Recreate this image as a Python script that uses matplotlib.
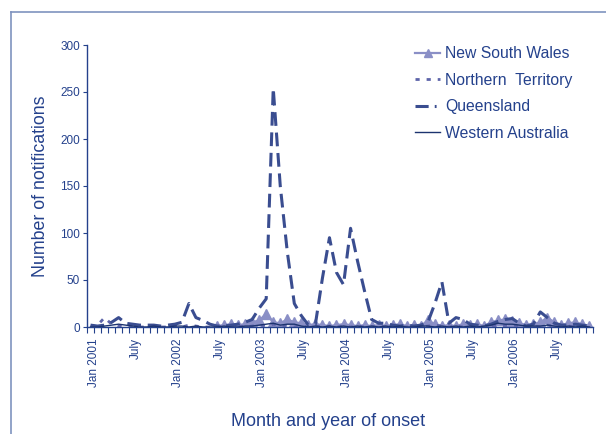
import matplotlib
matplotlib.use("Agg")
import matplotlib.pyplot as plt
import matplotlib.transforms as mtransforms
from matplotlib.lines import Line2D
import numpy as np

plt.rcParams['font.family'] = ['Liberation Sans', 'DejaVu Sans']

# Monthly notifications, January 2001 to December 2006
years = [2001, 2002, 2003, 2004, 2005, 2006]
month_names = ["Jan", "Feb", "Mar", "Apr", "May", "Jun",
               "Jul", "Aug", "Sep", "Oct", "Nov", "Dec"]

nsw = [None] * 18 + [
    1, 2, 3, 2, 3, 5,
    7, 14, 5, 4, 8, 5, 4, 2, 3, 2, 1, 2,
    3, 2, 1, 2, 1, 2, 1, 2, 3, 1, 2, 1,
    7, 3, 1, 2, 1, 3, 2, 3, 1, 5, 7, 8,
    6, 4, 2, 3, 5, 10, 5, 2, 4, 5, 3, 1,
]
nt = [
    0, 2, 10, 3, 1, 0, 1, 0, 0, 1, 0, 0,
    1, 0, 2, 1, 0, 0, 1, 0, 0, 1, 0, 1,
    2, 1, 3, 2, 1, 0, 1, 0, 1, 0, 1, 0,
    1, 0, 1, 0, 0, 1, 0, 1, 0, 0, 1, 0,
    1, 2, 1, 0, 1, 0, 1, 0, 0, 1, 2, 1,
    2, 1, 0, 1, 0, 2, 1, 0, 1, 0, 1, 0,
]
qld = [
    2, 1, 2, 5, 10, 4, 3, 2, 2, 2, 1, 2,
    3, 5, 25, 10, 7, 3, 1, 1, 2, 3, 5, 8,
    20, 30, 254, 150, 80, 25, 12, 2, 3, 52, 95, 58,
    45, 105, 70, 38, 8, 4, 4, 2, 1, 2, 1, 2,
    5, 25, 48, 4, 10, 8, 3, 2, 1, 3, 6, 8,
    9, 4, 1, 3, 16, 10, 4, 2, 2, 3, 2, 1,
]
wa = [
    0, 0, 1, 2, 3, 2, 1, 0, 0, 1, 0, 0,
    1, 1, 0, 1, 0, 0, 0, 1, 0, 0, 1, 1,
    2, 3, 4, 2, 3, 3, 1, 0, 1, 0, 1, 0,
    1, 0, 1, 0, 1, 0, 1, 0, 1, 0, 0, 1,
    1, 0, 1, 0, 1, 0, 1, 0, 1, 2, 4, 3,
    3, 2, 1, 1, 1, 2, 1, 0, 1, 0, 1, 0,
]

month_labels = []
for y in years:
    for m in month_names:
        month_labels.append(f"{m} {y}")
tick_labels = [f"Jan {y}" if i % 2 == 0 else "July"
               for y in years for i in range(2)]

text_blue = "#24418c"
c_nsw = "#8a8fc6"
c_nt = "#5d64a9"
c_qld = "#3a4d90"
c_wa = "#1c336f"

fig = plt.figure(figsize=(6.06, 4.34), dpi=100)
W, H = 606, 434

# outer frame
frame_col = "#7f93bf"
fig.add_artist(Line2D([11 / W, 11 / W], [0, 1 - 12 / H], color=frame_col,
                      lw=1.2, transform=fig.transFigure))
fig.add_artist(Line2D([11 / W, 1], [1 - 12 / H, 1 - 12 / H], color=frame_col,
                      lw=1.2, transform=fig.transFigure))

ax = fig.add_axes([87 / W, (H - 327) / H, (593 - 87) / W, 282 / H])
x = np.arange(len(month_labels))

nsw_arr = np.array([np.nan if v is None else v for v in nsw], dtype=float)
h_nsw, = ax.plot(x, nsw_arr, color=c_nsw, lw=1.6, marker="^", ms=7,
                 mec=c_nsw, mfc=c_nsw, zorder=2)
h_nt, = ax.plot(x, nt, color=c_nt, lw=2.0, dashes=(1.5, 2.5), zorder=3)
ax.plot(x, qld, color=c_qld, lw=2.2, dashes=(4.5, 2.2), zorder=4)
h_wa, = ax.plot(x, wa, color=c_wa, lw=1.0, zorder=5)

# legend key for Queensland: long dash followed by a dot
h_qld = Line2D([], [], color=c_qld, lw=2.2, dashes=(4.3, 2.0, 0.6, 2.0))

ax.set_xlim(-0.5, len(month_labels) - 0.5)
ax.set_ylim(0, 300)
ax.set_yticks(range(0, 301, 50))
ax.tick_params(axis="y", colors=text_blue, labelsize=8.5, length=3,
               width=0.8, pad=2)

ax.set_xticks(np.arange(-0.5, len(month_labels), 1.0), minor=True)
ax.set_xticks(np.arange(0, len(month_labels), 6))
ax.set_xticklabels(tick_labels, rotation=90, color=text_blue, fontsize=8.5)
ax.tick_params(axis="x", which="major", length=0, pad=8)
ax.tick_params(axis="x", which="minor", length=4, width=0.8,
               color=text_blue)
shift = mtransforms.ScaledTranslation(3 / 100, 0, fig.dpi_scale_trans)
for lbl in ax.get_xticklabels():
    lbl.set_transform(lbl.get_transform() + shift)

for side in ("top", "right"):
    ax.spines[side].set_visible(False)
for side in ("left", "bottom"):
    ax.spines[side].set_color(text_blue)
    ax.spines[side].set_linewidth(1.0)

ax.set_ylabel("Number of notifications", color=text_blue, fontsize=12.8,
              labelpad=8)
fig.text(328 / W, 1 - 421 / H, "Month and year of onset", color=text_blue,
         fontsize=13, ha="center", va="center")

leg = fig.legend([h_nsw, h_nt, h_qld, h_wa],
                 ["New South Wales", "Northern  Territory", "Queensland",
                  "Western Australia"],
                 loc="upper left", bbox_to_anchor=(415 / W, 1 - 46 / H),
                 frameon=False, fontsize=11.3, handlelength=1.6,
                 handletextpad=0.3, labelspacing=0.74, borderpad=0,
                 borderaxespad=0, markerscale=0.8)
for t in leg.get_texts():
    t.set_color(text_blue)

fig.savefig("out.png", dpi=100)
